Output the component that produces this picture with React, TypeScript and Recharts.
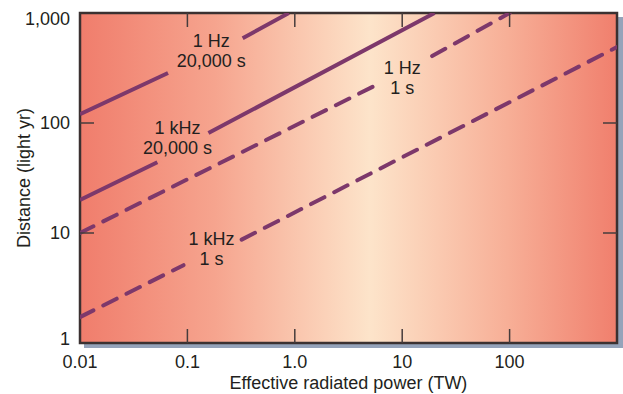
import React from "react";
import {
  LineChart,
  Line,
  XAxis,
  YAxis,
  CartesianGrid,
  ReferenceArea,
  ReferenceDot,
} from "recharts";

// power (TW) on x, distance (light yr) on y; null = gap left for a label
const HZ1_LONG = [
  { p: 0.01, d: 120 },
  { p: 0.066, d: 285 },
  { p: 0.15, d: null },
  { p: 0.327, d: 590 },
  { p: 0.88, d: 1000 },
];
const KHZ1_LONG = [
  { p: 0.01, d: 20 },
  { p: 0.0525, d: 44 },
  { p: 0.09, d: null },
  { p: 0.157, d: 81 },
  { p: 20, d: 1000 },
];
const HZ1_SHORT = [
  { p: 0.01, d: 10 },
  { p: 5.5, d: 217 },
  { p: 10, d: null },
  { p: 19, d: 406 },
  { p: 100, d: 1000 },
];
const KHZ1_SHORT = [
  { p: 0.01, d: 1.72 },
  { p: 0.092, d: 5.1 },
  { p: 0.17, d: null },
  { p: 0.32, d: 8.7 },
  { p: 1000, d: 490 },
];

const X_DOMAIN = [0.01, 1000];
const Y_DOMAIN = [1, 1000];
const X_TICKS = [0.01, 0.1, 1, 10, 100];
const X_TICK_LABELS = ["0.01", "0.1", "1.0", "10", "100"];
const Y_TICKS = [1, 10, 100, 1000];
const Y_TICK_LABELS = ["1", "10", "100", "1,000"];

const NOTES = [
  { p: 0.167, d: 452, lines: ["1 Hz", "20,000 s"] },
  { p: 0.081, d: 73, lines: ["1 kHz", "20,000 s"] },
  { p: 10, d: 256, lines: ["1 Hz", "1 s"] },
  { p: 0.168, d: 7.2, lines: ["1 kHz", "1 s"] },
];

const W = 623;
const H = 394;
const PLOT_TOP = 13;
const PLOT_RIGHT = 617;
const TICK = 14;
const FONT = '"Liberation Sans", Arial, Helvetica, sans-serif';
const INK = "#231f20";
const AXIS = "#463c3c";
const PURPLE = "#7d386b";

function XTick(props: any) {
  const { x, y, payload, index } = props;
  const v = payload.value;
  const inner = v > X_DOMAIN[0] && v < X_DOMAIN[1];
  return (
    <g>
      {inner && <line x1={x} y1={y} x2={x} y2={y - TICK} stroke={AXIS} strokeWidth={1.5} />}
      {inner && (
        <line x1={x} y1={PLOT_TOP} x2={x} y2={PLOT_TOP + TICK} stroke={AXIS} strokeWidth={1.5} />
      )}
      <text x={x} y={y + 25} textAnchor="middle" fill={INK} fontSize={18} fontFamily={FONT}>
        {X_TICK_LABELS[index]}
      </text>
    </g>
  );
}

function YTick(props: any) {
  const { x, y, payload, index } = props;
  const v = payload.value;
  const inner = v > Y_DOMAIN[0] && v < Y_DOMAIN[1];
  const nudge = v === Y_DOMAIN[1] ? 6 : v === Y_DOMAIN[0] ? -4 : 0;
  return (
    <g>
      {inner && <line x1={x} y1={y} x2={x + TICK} y2={y} stroke={AXIS} strokeWidth={1.5} />}
      {inner && (
        <line x1={PLOT_RIGHT} y1={y} x2={PLOT_RIGHT - TICK} y2={y} stroke={AXIS} strokeWidth={1.5} />
      )}
      <text
        x={x - 10}
        y={y + nudge}
        dy="0.35em"
        textAnchor="end"
        fill={INK}
        fontSize={18}
        fontFamily={FONT}
      >
        {Y_TICK_LABELS[index]}
      </text>
    </g>
  );
}

function Frame(props: any) {
  const { x, y, width, height } = props;
  return (
    <g>
      <rect x={x + width + 1} y={y + 4} width={5} height={height} fill="#95a3ba" />
      <rect x={x + 4} y={y + height + 1} width={width + 2} height={4} fill="#95a3ba" />
      <rect x={x} y={y} width={width} height={height} fill="none" stroke="#3b3131" strokeWidth={2.5} />
    </g>
  );
}

function Note(note: { lines: string[] }) {
  return (props: any) => {
    const { cx, cy } = props;
    return (
      <text textAnchor="middle" fill={INK} fontSize={18} fontFamily={FONT}>
        <tspan x={cx} y={cy - 10} dy="0.35em">
          {note.lines[0]}
        </tspan>
        <tspan x={cx} y={cy + 10} dy="0.35em">
          {note.lines[1]}
        </tspan>
      </text>
    );
  };
}

export default function App() {
  return (
    <div style={{ position: "absolute", left: 0, top: 0, background: "#fff" }}>
      <LineChart width={W} height={H} margin={{ top: PLOT_TOP, right: W - PLOT_RIGHT, bottom: 0, left: 0 }}>
        <defs>
          <linearGradient id="bgGrad" x1="0" y1="0" x2="1" y2="0">
            <stop offset="0%" stopColor="#f07d6c" />
            <stop offset="25%" stopColor="#f6a48e" />
            <stop offset="54%" stopColor="#fde4ca" />
            <stop offset="80%" stopColor="#f7ae96" />
            <stop offset="100%" stopColor="#f07f6d" />
          </linearGradient>
        </defs>
        <CartesianGrid horizontal={false} vertical={false} fill="url(#bgGrad)" fillOpacity={1} />
        <XAxis
          dataKey="p"
          type="number"
          scale="log"
          domain={X_DOMAIN}
          ticks={X_TICKS}
          allowDataOverflow
          height={H - 343}
          axisLine={false}
          tickLine={false}
          tickSize={0}
          tickMargin={0}
          tick={<XTick />}
          interval={0}
          label={{
            value: "Effective radiated power (TW)",
            position: "insideBottom",
            offset: 5,
            fill: INK,
            fontSize: 18,
            fontFamily: FONT,
          }}
        />
        <YAxis
          type="number"
          scale="log"
          domain={Y_DOMAIN}
          ticks={Y_TICKS}
          allowDataOverflow
          width={80}
          axisLine={false}
          tickLine={false}
          tickSize={0}
          tickMargin={0}
          tick={<YTick />}
          interval={0}
          label={{
            value: "Distance (light yr)",
            angle: -90,
            position: "center",
            dx: -16,
            fill: INK,
            fontSize: 18,
            fontFamily: FONT,
          }}
        />
        <Line data={HZ1_LONG} dataKey="d" stroke={PURPLE} strokeWidth={4} dot={false} isAnimationActive={false} />
        <Line data={KHZ1_LONG} dataKey="d" stroke={PURPLE} strokeWidth={4} dot={false} isAnimationActive={false} />
        <Line
          data={HZ1_SHORT}
          dataKey="d"
          stroke={PURPLE}
          strokeWidth={4}
          strokeDasharray="15 11"
          strokeLinecap="round"
          dot={false}
          isAnimationActive={false}
        />
        <Line
          data={KHZ1_SHORT}
          dataKey="d"
          stroke={PURPLE}
          strokeWidth={4}
          strokeDasharray="15 11"
          strokeLinecap="round"
          dot={false}
          isAnimationActive={false}
        />
        {NOTES.map((n, i) => (
          <ReferenceDot key={i} x={n.p} y={n.d} r={0} shape={Note(n)} ifOverflow="visible" />
        ))}
        <ReferenceArea shape={<Frame />} ifOverflow="visible" />
      </LineChart>
    </div>
  );
}
